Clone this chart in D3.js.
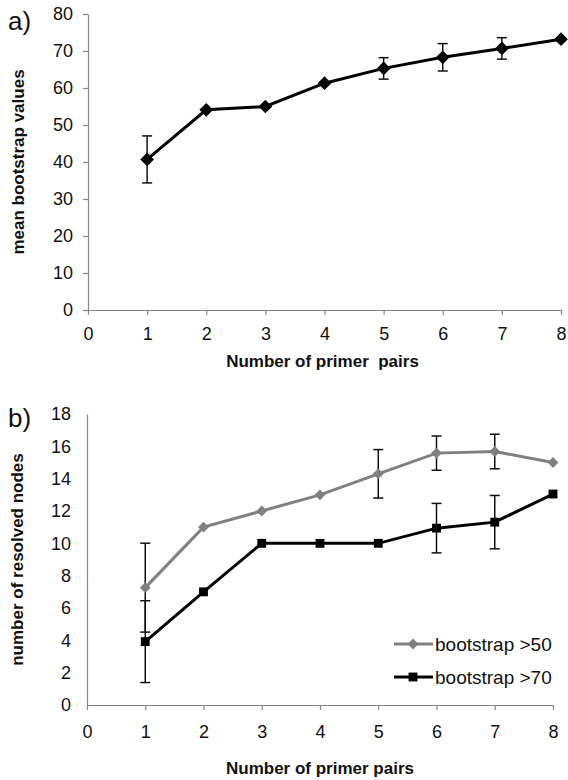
<!DOCTYPE html>
<html>
<head>
<meta charset="utf-8">
<script src="https://cdn.jsdelivr.net/npm/d3@7"></script>
<style>
  body { margin: 0; background: #fff; }
  text { font-family: "Liberation Sans", Arial, sans-serif; }
  .domain, .tick line { stroke: #888; stroke-width: 1.2; }
  .tick text { font-size: 18px; fill: #111; }
  .title { font-size: 17px; font-weight: bold; fill: #111; }
  .panel { font-size: 26px; fill: #111; }
  .legend { font-size: 19px; fill: #111; }
</style>
</head>
<body>
<div id="chart"></div>
<script>
// Data
const primerPairs = [1, 2, 3, 4, 5, 6, 7, 8];
const xTicks = [0, 1, 2, 3, 4, 5, 6, 7, 8];

// panel a
const meanBootstrap = [40.7, 54.1, 55.0, 61.3, 65.3, 68.3, 70.7, 73.2];
const meanBootstrapErr = [6.35, 0, 0, 0, 2.9, 3.7, 2.9, 0];
const yTicksA = [0, 10, 20, 30, 40, 50, 60, 70, 80];

// panel b
const nodes50 = [7.26, 11.0, 12.0, 13.0, 14.3, 15.58, 15.68, 15.0];
const nodes50Err = [2.75, 0, 0, 0, 1.5, 1.06, 1.07, 0];
const nodes70 = [3.92, 7.0, 10.0, 10.0, 10.0, 10.94, 11.31, 13.05];
const nodes70Err = [2.53, 0, 0, 0, 0, 1.53, 1.65, 0];
const yTicksB = [0, 2, 4, 6, 8, 10, 12, 14, 16, 18];
const legendLabels = ["bootstrap >50", "bootstrap >70"];

const W = 568, H = 780;
const svg = d3.select("#chart").append("svg")
  .attr("width", W).attr("height", H);

const diamond = d3.symbol().type(d3.symbolDiamond2);
const square = d3.symbol().type(d3.symbolSquare2);

// Draw one series: error bars, line, markers
function drawSeries(g, x, y, vals, errs, color, sym, symSize) {
  const pts = primerPairs.map((p, i) => ({x: p, y: vals[i], e: errs[i]}));

  const eb = g.append("g");
  pts.filter(d => d.e > 0).forEach(d => {
    const cx = x(d.x);
    eb.append("line")
      .attr("x1", cx).attr("x2", cx)
      .attr("y1", y(d.y + d.e)).attr("y2", y(d.y - d.e))
      .attr("stroke", "#111").attr("stroke-width", 1.5);
    [d.y + d.e, d.y - d.e].forEach(v => {
      eb.append("line")
        .attr("x1", cx - 5).attr("x2", cx + 5)
        .attr("y1", y(v)).attr("y2", y(v))
        .attr("stroke", "#111").attr("stroke-width", 1.5);
    });
  });

  g.append("path")
    .datum(pts)
    .attr("fill", "none")
    .attr("stroke", color)
    .attr("stroke-width", 3)
    .attr("d", d3.line().x(d => x(d.x)).y(d => y(d.y)));

  g.selectAll(null).data(pts).enter().append("path")
    .attr("transform", d => `translate(${x(d.x)},${y(d.y)})`)
    .attr("d", sym.size(symSize)())
    .attr("fill", color);
}

// ---- Panel a ----
const xA = d3.scaleLinear().domain([0, 8]).range([88, 561]);
const yA = d3.scaleLinear().domain([0, 80]).range([310, 14]);

const gA = svg.append("g");
gA.append("g")
  .attr("transform", "translate(0,310)")
  .call(d3.axisBottom(xA).tickValues(xTicks).tickFormat(d3.format("d"))
    .tickSize(5).tickSizeOuter(0).tickPadding(12));
gA.append("g")
  .attr("transform", "translate(88,0)")
  .call(d3.axisLeft(yA).tickValues(yTicksA).tickFormat(d3.format("d"))
    .tickSize(5).tickSizeOuter(0).tickPadding(10));

drawSeries(gA, xA, yA, meanBootstrap, meanBootstrapErr, "#000", diamond, 120);

gA.append("text").attr("class", "panel").attr("x", 8).attr("y", 30).text("a)");
gA.append("text").attr("class", "title")
  .attr("transform", `translate(24,${(yA(0) + yA(80)) / 2}) rotate(-90)`)
  .attr("text-anchor", "middle").text("mean bootstrap values");
gA.append("text").attr("class", "title")
  .attr("x", (xA(0) + xA(8)) / 2 - 2).attr("y", 367)
  .attr("text-anchor", "middle").attr("xml:space", "preserve")
  .style("white-space", "pre")
  .text("Number of primer  pairs");

// ---- Panel b ----
const xB = d3.scaleLinear().domain([0, 8]).range([87, 553]);
const yB = d3.scaleLinear().domain([0, 18]).range([705, 414]);

const gB = svg.append("g");
gB.append("g")
  .attr("transform", "translate(0,705)")
  .call(d3.axisBottom(xB).tickValues(xTicks).tickFormat(d3.format("d"))
    .tickSize(5).tickSizeOuter(0).tickPadding(15));
gB.append("g")
  .attr("transform", "translate(87,0)")
  .call(d3.axisLeft(yB).tickValues(yTicksB).tickFormat(d3.format("d"))
    .tickSize(0).tickSizeOuter(0).tickPadding(16));

drawSeries(gB, xB, yB, nodes50, nodes50Err, "#808080", diamond, 75);
drawSeries(gB, xB, yB, nodes70, nodes70Err, "#000", square, 100);

gB.append("text").attr("class", "panel").attr("x", 8).attr("y", 427).text("b)");
gB.append("text").attr("class", "title")
  .attr("transform", `translate(23,${(yB(0) + yB(18)) / 2}) rotate(-90)`)
  .attr("text-anchor", "middle").text("number of resolved nodes");
gB.append("text").attr("class", "title")
  .attr("x", (xB(0) + xB(8)) / 2).attr("y", 774)
  .attr("text-anchor", "middle").text("Number of primer pairs");

// legend
const legendColors = ["#808080", "#000"];
const legendSyms = [diamond.size(75)(), square.size(100)()];
legendLabels.forEach((lab, i) => {
  const ly = 644 + i * 33;
  const lg = gB.append("g");
  lg.append("line").attr("x1", 394).attr("x2", 433).attr("y1", ly).attr("y2", ly)
    .attr("stroke", legendColors[i]).attr("stroke-width", 3);
  lg.append("path").attr("transform", `translate(413,${ly})`)
    .attr("d", legendSyms[i]).attr("fill", legendColors[i]);
  lg.append("text").attr("class", "legend").attr("x", 435).attr("y", ly + 7).text(lab);
});
</script>
</body>
</html>
